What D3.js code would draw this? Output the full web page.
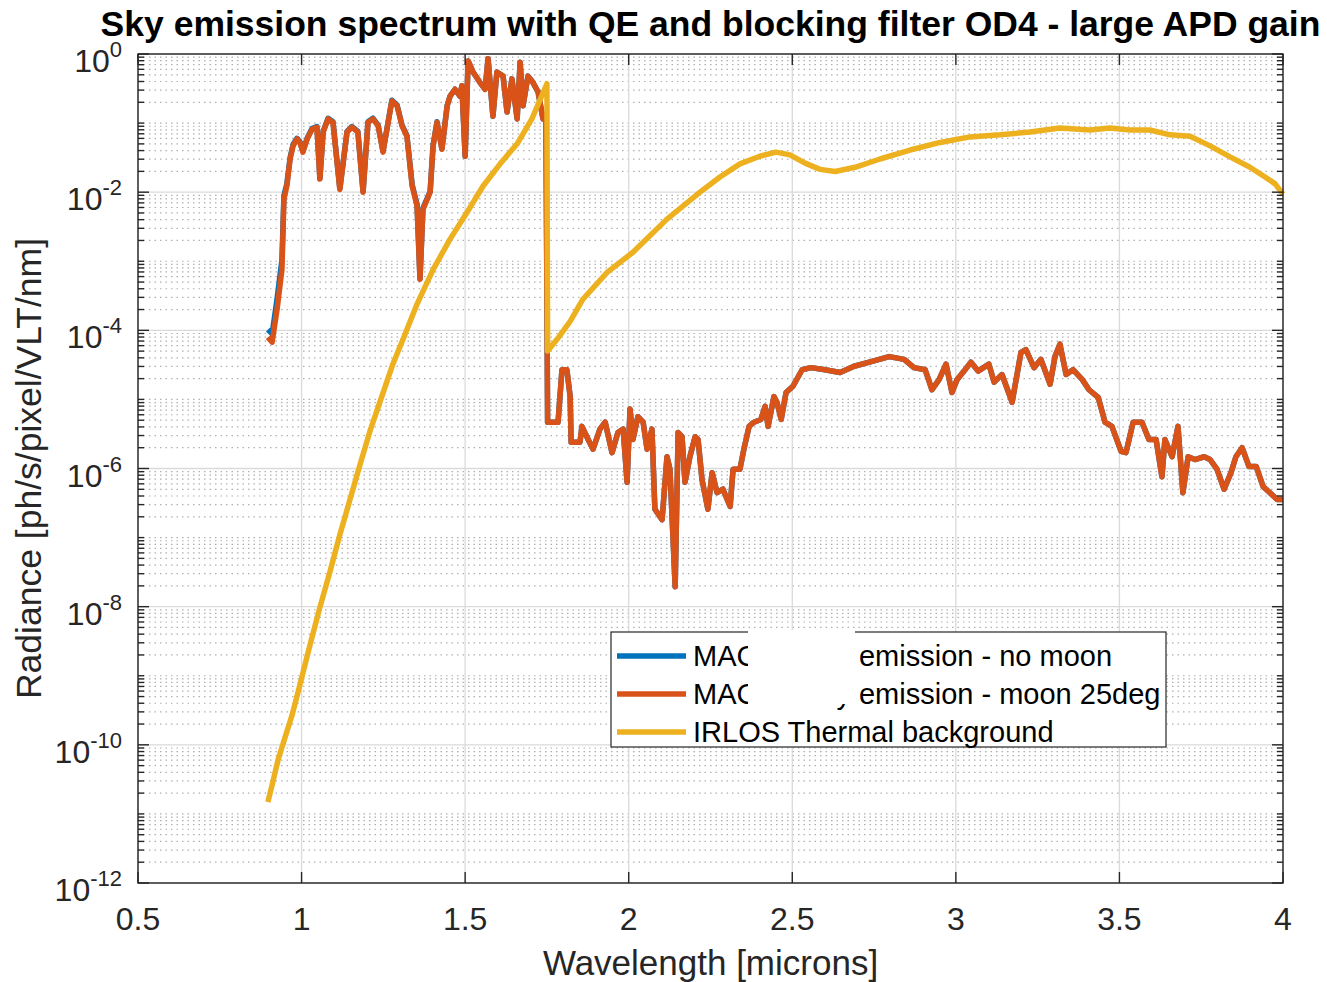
<!DOCTYPE html>
<html><head><meta charset="utf-8">
<script src="https://cdn.jsdelivr.net/npm/d3@7"></script>
<style>body{margin:0;background:#fff}svg{display:block}text{font-family:"Liberation Sans",Arial,Helvetica,sans-serif}</style>
</head><body>
<svg id="chart" width="1327" height="982"></svg>
<script>
// ---- data (wavelength in microns, radiance given as log10 of ph/s/pixel/VLT/nm) ----
const titleText = "Sky emission spectrum with QE and blocking filter OD4 - large APD gain";
const xLabel = "Wavelength [microns]";
const yLabel = "Radiance [ph/s/pixel/VLT/nm]";
const seriesNames = ["MACAO sky emission - no moon", "MACAO sky emission - moon 25deg", "IRLOS Thermal background"];
const seriesColors = ["#0072BD", "#D95319", "#EDB120"];
const xTicks = [0.5, 1, 1.5, 2, 2.5, 3, 3.5, 4];
const yTickExponents = [0, -2, -4, -6, -8, -10, -12];

const skyMoonLog10 = [
[0.897,-4.10],[0.910,-4.17],[0.925,-3.70],[0.940,-3.12],[0.946,-2.10],[0.955,-1.91],[0.965,-1.52],[0.974,-1.33],[0.986,-1.23],[0.995,-1.28],
[1.004,-1.42],[1.017,-1.23],[1.032,-1.09],[1.047,-1.06],[1.056,-1.81],[1.066,-1.13],[1.081,-0.94],[1.096,-0.99],[1.117,-1.96],[1.139,-1.13],
[1.154,-1.06],[1.172,-1.13],[1.188,-2.00],[1.203,-0.99],[1.218,-0.94],[1.234,-1.04],[1.249,-1.42],[1.261,-1.09],[1.276,-0.68],[1.292,-0.75],
[1.307,-1.04],[1.322,-1.19],[1.338,-1.91],[1.353,-2.20],[1.362,-3.26],[1.371,-2.25],[1.393,-2.00],[1.402,-1.33],[1.414,-0.99],[1.429,-1.38],
[1.445,-0.75],[1.454,-0.61],[1.469,-0.51],[1.484,-0.61],[1.490,-0.46],[1.500,-1.48],[1.509,-0.10],[1.524,-0.26],[1.545,-0.41],[1.561,-0.51],
[1.570,-0.07],[1.585,-0.90],[1.597,-0.26],[1.616,-0.32],[1.628,-0.84],[1.643,-0.36],[1.659,-0.94],[1.668,-0.12],[1.677,-0.75],[1.692,-0.32],
[1.707,-0.41],[1.723,-0.55],[1.738,-0.94],[1.747,-0.94],[1.751,-4.38],[1.752,-5.33],[1.784,-5.33],[1.796,-4.57],[1.811,-4.57],[1.821,-4.96],
[1.824,-5.62],[1.851,-5.62],[1.857,-5.39],[1.876,-5.58],[1.891,-5.72],[1.912,-5.43],[1.928,-5.33],[1.949,-5.77],[1.967,-5.48],[1.983,-5.43],
[1.995,-6.20],[2.004,-5.14],[2.013,-5.58],[2.028,-5.25],[2.044,-5.33],[2.056,-5.72],[2.071,-5.43],[2.080,-6.59],[2.102,-6.74],[2.117,-5.83],
[2.126,-6.01],[2.142,-7.71],[2.151,-5.48],[2.163,-5.54],[2.172,-6.20],[2.187,-5.83],[2.203,-5.54],[2.212,-5.58],[2.224,-6.16],[2.242,-6.59],
[2.255,-6.06],[2.270,-6.35],[2.288,-6.30],[2.310,-6.55],[2.319,-6.01],[2.340,-6.01],[2.352,-5.72],[2.368,-5.39],[2.383,-5.33],[2.404,-5.29],
[2.417,-5.10],[2.426,-5.39],[2.444,-4.96],[2.453,-5.04],[2.466,-5.29],[2.481,-4.90],[2.502,-4.81],[2.530,-4.57],[2.557,-4.54],[2.600,-4.57],
[2.646,-4.61],[2.689,-4.52],[2.744,-4.45],[2.796,-4.38],[2.842,-4.42],[2.872,-4.54],[2.906,-4.57],[2.927,-4.86],[2.949,-4.71],[2.970,-4.49],
[2.988,-4.90],[3.004,-4.71],[3.025,-4.59],[3.046,-4.46],[3.068,-4.59],[3.101,-4.49],[3.117,-4.75],[3.141,-4.64],[3.172,-5.04],[3.199,-4.32],
[3.214,-4.28],[3.239,-4.54],[3.260,-4.42],[3.288,-4.78],[3.303,-4.38],[3.318,-4.20],[3.337,-4.64],[3.358,-4.57],[3.386,-4.71],[3.407,-4.86],
[3.435,-4.97],[3.456,-5.33],[3.477,-5.39],[3.505,-5.75],[3.520,-5.77],[3.542,-5.33],[3.569,-5.33],[3.590,-5.58],[3.612,-5.58],[3.630,-6.12],
[3.639,-5.58],[3.661,-5.83],[3.679,-5.39],[3.694,-6.35],[3.710,-5.83],[3.731,-5.87],[3.759,-5.83],[3.777,-5.87],[3.798,-6.01],[3.820,-6.30],
[3.841,-6.06],[3.856,-5.83],[3.875,-5.70],[3.896,-5.97],[3.918,-5.97],[3.939,-6.26],[3.960,-6.35],[3.982,-6.45],[4.000,-6.45]
];

const skyNoMoonLog10 = [
[0.897,-3.99],[0.910,-4.05],[0.925,-3.55],[0.940,-2.98],[0.946,-2.05],[0.955,-1.88],[0.965,-1.50],[0.974,-1.31],[0.986,-1.22],[0.995,-1.27],
[1.004,-1.41],[1.017,-1.22],[1.032,-1.08],[1.047,-1.05],[1.056,-1.80],[1.066,-1.12],[1.081,-0.93],[1.096,-0.98],[1.117,-1.95],[1.139,-1.12],
[1.154,-1.05],[1.172,-1.12],[1.188,-1.99],[1.203,-0.98],[1.218,-0.93],[1.234,-1.03],[1.249,-1.41],[1.261,-1.08],[1.276,-0.67],[1.292,-0.74],
[1.307,-1.03],[1.322,-1.18],[1.338,-1.89],[1.353,-2.18],[1.362,-3.25],[1.371,-2.23],[1.393,-1.99],[1.402,-1.32],[1.414,-0.98],[1.429,-1.37],
[1.445,-0.75],[1.454,-0.61],[1.469,-0.51],[1.484,-0.61],[1.490,-0.46],[1.500,-1.48],[1.509,-0.10],[1.524,-0.26],[1.545,-0.41],[1.561,-0.51],
[1.570,-0.07],[1.585,-0.90],[1.597,-0.26],[1.616,-0.32],[1.628,-0.84],[1.643,-0.36],[1.659,-0.94],[1.668,-0.12],[1.677,-0.75],[1.692,-0.32],
[1.707,-0.41],[1.723,-0.55],[1.738,-0.94],[1.747,-0.94],[1.751,-4.38],[1.752,-5.33],[1.784,-5.33],[1.796,-4.57],[1.811,-4.57],[1.821,-4.96],
[1.824,-5.62],[1.851,-5.62],[1.857,-5.39],[1.876,-5.58],[1.891,-5.72],[1.912,-5.43],[1.928,-5.33],[1.949,-5.77],[1.967,-5.48],[1.983,-5.43],
[1.995,-6.20],[2.004,-5.14],[2.013,-5.58],[2.028,-5.25],[2.044,-5.33],[2.056,-5.72],[2.071,-5.43],[2.080,-6.59],[2.102,-6.74],[2.117,-5.83],
[2.126,-6.01],[2.142,-7.71],[2.151,-5.48],[2.163,-5.54],[2.172,-6.20],[2.187,-5.83],[2.203,-5.54],[2.212,-5.58],[2.224,-6.16],[2.242,-6.59],
[2.255,-6.06],[2.270,-6.35],[2.288,-6.30],[2.310,-6.55],[2.319,-6.01],[2.340,-6.01],[2.352,-5.72],[2.368,-5.39],[2.383,-5.33],[2.404,-5.29],
[2.417,-5.10],[2.426,-5.39],[2.444,-4.96],[2.453,-5.04],[2.466,-5.29],[2.481,-4.90],[2.502,-4.81],[2.530,-4.57],[2.557,-4.54],[2.600,-4.57],
[2.646,-4.61],[2.689,-4.52],[2.744,-4.45],[2.796,-4.38],[2.842,-4.42],[2.872,-4.54],[2.906,-4.57],[2.927,-4.86],[2.949,-4.71],[2.970,-4.49],
[2.988,-4.90],[3.004,-4.71],[3.025,-4.59],[3.046,-4.46],[3.068,-4.59],[3.101,-4.49],[3.117,-4.75],[3.141,-4.64],[3.172,-5.04],[3.199,-4.32],
[3.214,-4.28],[3.239,-4.54],[3.260,-4.42],[3.288,-4.78],[3.303,-4.38],[3.318,-4.20],[3.337,-4.64],[3.358,-4.57],[3.386,-4.71],[3.407,-4.86],
[3.435,-4.97],[3.456,-5.33],[3.477,-5.39],[3.505,-5.75],[3.520,-5.77],[3.542,-5.33],[3.569,-5.33],[3.590,-5.58],[3.612,-5.58],[3.630,-6.12],
[3.639,-5.58],[3.661,-5.83],[3.679,-5.39],[3.694,-6.35],[3.710,-5.83],[3.731,-5.87],[3.759,-5.83],[3.777,-5.87],[3.798,-6.01],[3.820,-6.30],
[3.841,-6.06],[3.856,-5.83],[3.875,-5.70],[3.896,-5.97],[3.918,-5.97],[3.939,-6.26],[3.960,-6.35],[3.982,-6.45],[4.000,-6.45]
];

const thermalLog10 = [
[0.897,-10.83],[0.910,-10.58],[0.928,-10.22],[0.949,-9.90],[0.971,-9.57],[0.995,-9.13],[1.026,-8.55],[1.056,-8.01],[1.087,-7.49],[1.117,-6.96],
[1.148,-6.45],[1.179,-5.94],[1.209,-5.46],[1.240,-5.03],[1.279,-4.49],[1.316,-4.06],[1.353,-3.62],[1.402,-3.12],[1.454,-2.68],[1.506,-2.29],
[1.555,-1.91],[1.607,-1.59],[1.659,-1.30],[1.704,-0.94],[1.750,-0.43],[1.752,-4.30],[1.781,-4.13],[1.821,-3.87],[1.860,-3.55],[1.934,-3.16],
[2.013,-2.87],[2.117,-2.39],[2.218,-2.00],[2.279,-1.78],[2.340,-1.59],[2.401,-1.48],[2.450,-1.42],[2.493,-1.46],[2.539,-1.58],[2.585,-1.67],
[2.631,-1.70],[2.692,-1.64],[2.768,-1.52],[2.860,-1.39],[2.952,-1.28],[3.043,-1.20],[3.135,-1.17],[3.227,-1.13],[3.318,-1.07],[3.410,-1.10],
[3.471,-1.07],[3.532,-1.10],[3.593,-1.10],[3.655,-1.17],[3.716,-1.19],[3.777,-1.33],[3.838,-1.49],[3.899,-1.64],[3.945,-1.78],[3.976,-1.88],
[4.000,-2.03]
];

// ---- layout ----
const svg = d3.select("#chart");
const plot = {left: 138, right: 1283, top: 54, bottom: 883};
const axisColor = "#262626";
const x = d3.scaleLinear().domain([0.5, 4]).range([plot.left, plot.right]);
const y = d3.scaleLog().domain([1e-12, 1]).range([plot.bottom, plot.top]);

// grid values
const minorVals = [];
for (let d = -12; d < 0; d++) {
  for (let k = 1; k <= 9; k++) {
    if (k === 1 && d % 2 === 0) continue;
    minorVals.push(k * Math.pow(10, d));
  }
}
const majorVals = yTickExponents.map(e => Math.pow(10, e));

const grid = svg.append("g");
grid.selectAll("line.minor").data(minorVals).join("line")
  .attr("x1", plot.left).attr("x2", plot.right)
  .attr("y1", d => y(d)).attr("y2", d => y(d))
  .attr("stroke", "#b0b0b0").attr("stroke-width", 1.2).attr("stroke-dasharray", "1.5,4");
grid.selectAll("line.majy").data(majorVals).join("line")
  .attr("x1", plot.left).attr("x2", plot.right)
  .attr("y1", d => y(d)).attr("y2", d => y(d))
  .attr("stroke", "#dadada").attr("stroke-width", 1.3);
grid.selectAll("line.majx").data(xTicks).join("line")
  .attr("x1", d => x(d)).attr("x2", d => x(d))
  .attr("y1", plot.top).attr("y2", plot.bottom)
  .attr("stroke", "#dadada").attr("stroke-width", 1.3);

// clip
svg.append("clipPath").attr("id", "clip").append("rect")
  .attr("x", plot.left).attr("y", plot.top - 3)
  .attr("width", plot.right - plot.left + 3).attr("height", plot.bottom - plot.top + 3);

const line = d3.line().x(d => x(d[0])).y(d => y(Math.pow(10, d[1])));
const seriesData = [skyNoMoonLog10, skyMoonLog10, thermalLog10];
const lines = svg.append("g").attr("clip-path", "url(#clip)");
seriesData.forEach((s, i) => {
  lines.append("path").datum(s).attr("d", line)
    .attr("fill", "none").attr("stroke", seriesColors[i])
    .attr("stroke-width", 5.5).attr("stroke-linejoin", "round").attr("stroke-linecap", "butt");
});

// axes box + ticks
const ax = svg.append("g").attr("stroke", axisColor).attr("stroke-width", 1.4);
ax.append("rect").attr("x", plot.left).attr("y", plot.top)
  .attr("width", plot.right - plot.left).attr("height", plot.bottom - plot.top).attr("fill", "none");
xTicks.forEach(t => {
  ax.append("line").attr("x1", x(t)).attr("x2", x(t)).attr("y1", plot.bottom).attr("y2", plot.bottom - 11);
  ax.append("line").attr("x1", x(t)).attr("x2", x(t)).attr("y1", plot.top).attr("y2", plot.top + 11);
});
majorVals.forEach(v => {
  ax.append("line").attr("x1", plot.left).attr("x2", plot.left + 11).attr("y1", y(v)).attr("y2", y(v));
  ax.append("line").attr("x1", plot.right).attr("x2", plot.right - 11).attr("y1", y(v)).attr("y2", y(v));
});
minorVals.forEach(v => {
  ax.append("line").attr("x1", plot.left).attr("x2", plot.left + 6).attr("y1", y(v)).attr("y2", y(v));
  ax.append("line").attr("x1", plot.right).attr("x2", plot.right - 6).attr("y1", y(v)).attr("y2", y(v));
});

// tick labels
svg.append("g").selectAll("text").data(xTicks).join("text")
  .attr("x", d => x(d)).attr("y", 930)
  .attr("text-anchor", "middle").attr("font-size", 32).attr("fill", axisColor)
  .text(d => String(d));
const yl = svg.append("g").selectAll("text").data(yTickExponents).join("text")
  .attr("x", 122).attr("y", d => y(Math.pow(10, d)) + 18)
  .attr("text-anchor", "end").attr("font-size", 32).attr("fill", axisColor);
yl.append("tspan").text("10");
yl.append("tspan").attr("dy", -15).attr("font-size", 22).text(d => String(d));

// axis labels & title
svg.append("text").attr("x", (plot.left + plot.right) / 2).attr("y", 975)
  .attr("text-anchor", "middle").attr("font-size", 35).attr("fill", axisColor).text(xLabel);
svg.append("text").attr("transform", `translate(41,${(plot.top + plot.bottom) / 2}) rotate(-90)`)
  .attr("text-anchor", "middle").attr("font-size", 35.5).attr("fill", axisColor).text(yLabel);
svg.append("text").attr("x", (plot.left + plot.right) / 2).attr("y", 36)
  .attr("text-anchor", "middle").attr("font-size", 35.5).attr("font-weight", "bold").attr("fill", "#000").text(titleText);

// legend
const lg = svg.append("g");
lg.append("rect").attr("x", 611).attr("y", 632).attr("width", 555).attr("height", 115)
  .attr("fill", "#fff").attr("stroke", axisColor).attr("stroke-width", 1.2);
seriesNames.forEach((n, i) => {
  const cy = 656 + i * 38;
  lg.append("line").attr("x1", 617).attr("x2", 686).attr("y1", cy).attr("y2", cy)
    .attr("stroke", seriesColors[i]).attr("stroke-width", 5.5);
  lg.append("text").attr("x", 693).attr("y", cy + 10).attr("font-size", 29).attr("fill", "#000").text(n);
});
// white patch present in the original image over part of the legend text
lg.append("rect").attr("x", 748).attr("y", 630).attr("width", 107).attr("height", 74).attr("fill", "#fff");
</script>
</body></html>
